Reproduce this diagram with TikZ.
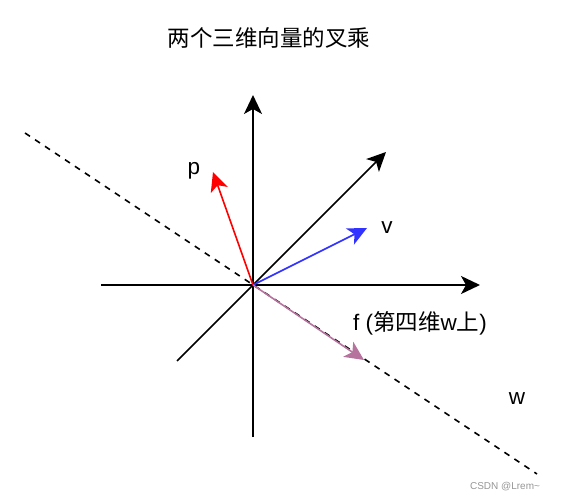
\documentclass[tikz,border=0pt]{standalone}
\usepackage{fontspec}
\setmainfont{Liberation Sans}
\newfontfamily\cjk{Noto Sans CJK SC}
\usetikzlibrary{arrows.meta}
\tikzset{bigtip/.tip={Stealth[length=19pt,width=18pt,inset=5pt]}}
\begin{document}
\begin{tikzpicture}[x=1pt,y=-1pt,
  axis/.style={line width=1.8pt,black},
  vec/.style={line width=1.6pt,-bigtip},
  lbl/.style={inner sep=0pt,font=\fontsize{22.5}{26}\selectfont},
  dashline/.style={line width=1.6pt,dash pattern=on 6pt off 6pt}]
\useasboundingbox (0,0) rectangle (579,500);
\coordinate (O) at (253,285);
\coordinate (ytop) at (253,95);
\coordinate (ybot) at (253,437);
\coordinate (xl) at (101,285);
\coordinate (xr) at (480,285);
\coordinate (zl) at (177,361);
\coordinate (zr) at (386,152);
\coordinate (ds) at (25,133);
\coordinate (de) at (537,474);
\coordinate (pt) at (213,172);
\coordinate (vt) at (367,228);
\coordinate (ft) at (364,360);
\draw[dashline] (ds) -- (de);
\draw[axis,vec] (ybot) -- (ytop);
\draw[axis,vec] (xl) -- (xr);
\draw[axis,vec] (zl) -- (zr);
\draw[vec,color={rgb,255:red,255;green,0;blue,0}] (O) -- (pt);
\draw[vec,color={rgb,255:red,51;green,51;blue,255}] (O) -- (vt);
\draw[vec,color={rgb,255:red,181;green,115;blue,157}] (O) -- (ft);
\node[lbl] (title) at (269,38) {\cjk 两个三维向量的叉乘};
\node[lbl] (p) at (194,171) {p};
\node[lbl] (v) at (387,228) {v};
\node[lbl,anchor=west] (f) at (353,323) {f ({\cjk 第四维}w{\cjk 上})};
\node[lbl] (w) at (517,399) {w};
\node[inner sep=0pt,font=\fontsize{10}{12}\selectfont,text={rgb,255:red,150;green,150;blue,150}] (wm) at (505,487) {CSDN @Lrem\textasciitilde};
\end{tikzpicture}
\end{document}
